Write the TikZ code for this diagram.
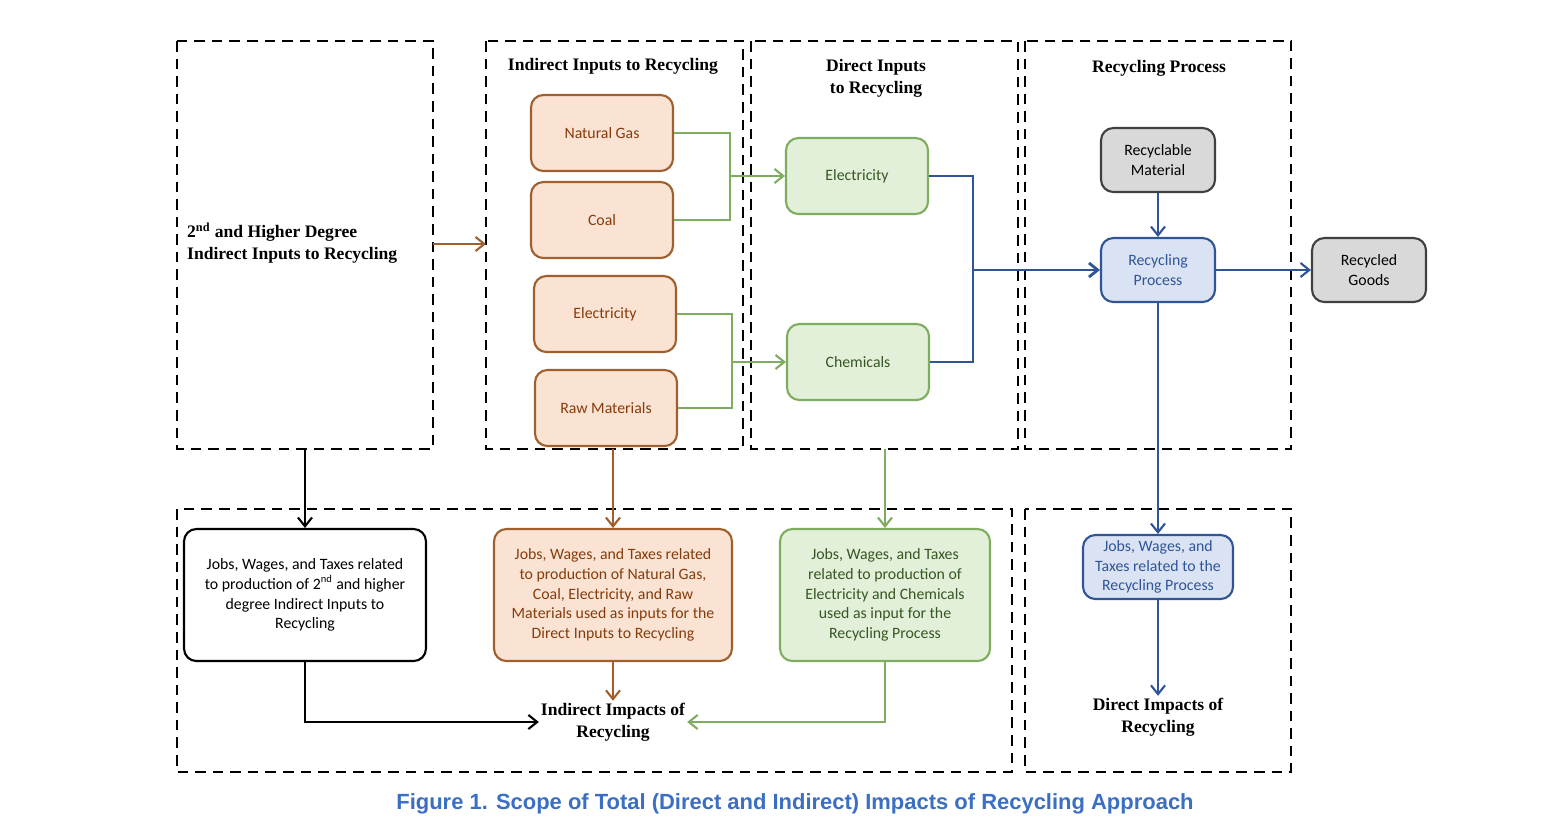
\documentclass[tikz,border=0pt]{standalone}
\usepackage{fontspec}
\setmainfont{Carlito}
\newfontfamily\hdfont{Liberation Serif}
\newfontfamily\capfont{Liberation Sans}
\usetikzlibrary{arrows.meta}
\definecolor{orfill}{HTML}{FBE3D3}
\definecolor{ordraw}{HTML}{A0602E}
\definecolor{ortext}{HTML}{843C0C}
\definecolor{grfill}{HTML}{E2F0D9}
\definecolor{grdraw}{HTML}{7FAD5F}
\definecolor{grtext}{HTML}{375623}
\definecolor{blfill}{HTML}{DAE3F3}
\definecolor{bldraw}{HTML}{2F5597}
\definecolor{gyfill}{HTML}{D9D9D9}
\definecolor{captxt}{HTML}{3A6FC4}
\tikzset{
  scope box/.style={draw, dashed, line width=1.2pt, dash pattern=on 6pt off 4pt},
  box/.style={draw, rounded corners=7pt, line width=1.2pt, align=center, font=\fontsize{9}{11.3}\selectfont, inner sep=2pt},
  orbox/.style={box, fill=orfill, draw=ordraw, text=ortext},
  grbox/.style={box, fill=grfill, draw=grdraw, text=grtext},
  blbox/.style={box, fill=blfill, draw=bldraw, text=bldraw},
  gybox/.style={box, fill=gyfill, draw=black!75, text=black},
  head/.style={font=\hdfont\bfseries\fontsize{10}{12.5}\selectfont, align=center},
  arr/.style={-{Straight Barb[length=5pt,width=8pt]}, line width=1.2pt},
}
\begin{document}
\begin{tikzpicture}[x=0.02cm, y=-0.02cm]
    \useasboundingbox (0,0) rectangle (1555,836);
    % dashed scopes
    \draw[scope box] (177,41) rectangle (433,449);
    \draw[scope box] (486,41) rectangle (743,449);
    \draw[scope box] (751,41) rectangle (1018,449);
    \draw[scope box] (1025,41) rectangle (1291,449);
    \draw[scope box] (177,509) rectangle (1012,772);
    \draw[scope box] (1025,509) rectangle (1291,772);
    \coordinate (higherE) at (433,244);
    \coordinate (higherS) at (305,449);
    \coordinate (indW) at (486,244);
    \coordinate (indS) at (613,449);
    \coordinate (dirS) at (885,449);

    % headers
    \node[head] at (613,66) {Indirect Inputs to Recycling};
    \node[head] at (876,78) {Direct Inputs\\to Recycling};
    \node[head] at (1159,68) {Recycling Process};
    \node[head, align=left, anchor=west] at (181,243) {2\textsuperscript{nd} and Higher Degree\\Indirect Inputs to Recycling};

    % indirect inputs
    \node[orbox, minimum width=2.84cm, minimum height=1.52cm] (gas) at (602,133) {Natural Gas};
    \node[orbox, minimum width=2.84cm, minimum height=1.52cm] (coal) at (602,220) {Coal};
    \node[orbox, minimum width=2.84cm, minimum height=1.52cm] (elecI) at (605,314) {Electricity};
    \node[orbox, minimum width=2.84cm, minimum height=1.52cm] (raw) at (606,408) {Raw Materials};

    % direct inputs
    \node[grbox, minimum width=2.84cm, minimum height=1.52cm] (elecD) at (857,176) {Electricity};
    \node[grbox, minimum width=2.84cm, minimum height=1.52cm] (chem) at (858,362) {Chemicals};

    % recycling process
    \node[gybox, minimum width=2.28cm, minimum height=1.28cm] (mat) at (1158,160) {Recyclable\\Material};
    \node[blbox, minimum width=2.28cm, minimum height=1.28cm] (proc) at (1158,270) {Recycling\\Process};
    \node[gybox, minimum width=2.28cm, minimum height=1.28cm] (goods) at (1369,270) {Recycled\\Goods};

    % impacts
    \node[box, minimum width=4.84cm, minimum height=2.64cm] (jobsH) at (305,595) {Jobs, Wages, and Taxes related\\to production of 2\textsuperscript{nd} and higher\\degree Indirect Inputs to\\Recycling};
    \node[orbox, minimum width=4.76cm, minimum height=2.64cm] (jobsI) at (613,595) {Jobs, Wages, and Taxes related\\to production of Natural Gas,\\Coal, Electricity, and Raw\\Materials used as inputs for the\\Direct Inputs to Recycling};
    \node[grbox, minimum width=4.2cm, minimum height=2.64cm] (jobsD) at (885,595) {Jobs, Wages, and Taxes\\related to production of\\Electricity and Chemicals\\used as input for the\\Recycling Process};
    \node[blbox, minimum width=3cm, minimum height=1.28cm] (jobsR) at (1158,567) {Jobs, Wages, and\\Taxes related to the\\Recycling Process};
    \node[head, inner sep=1pt] (indImp) at (613,722) {Indirect Impacts of\\Recycling};
    \node[head, inner sep=1pt] (dirImp) at (1158,717) {Direct Impacts of\\Recycling};

    \node[font=\capfont\bfseries\fontsize{12.5}{15}\selectfont, text=captxt] (cap) at (795,804) {Figure 1. Scope of Total (Direct and Indirect) Impacts of Recycling Approach};

    % connectors
    \draw[grdraw, line width=1.2pt] (gas.east) -| (730,220) -- (coal.east);
    \draw[arr, grdraw] (730,176) -- (elecD.west);
    \draw[grdraw, line width=1.2pt] (elecI.east) -| (732,408) -- (raw.east);
    \draw[arr, grdraw] (732,362) -- (chem.west);
    \draw[bldraw, line width=1.2pt] (elecD.east) -| (973,362) -- (chem.east);
    \draw[arr, bldraw, line width=1.6pt] (973,270) -- (proc.west);
    \draw[arr, bldraw] (mat) -- (proc);
    \draw[arr, bldraw] (proc) -- (goods);
    \draw[arr, bldraw] (proc) -- (jobsR);
    \draw[arr, bldraw] (jobsR) -- (dirImp);
    \draw[arr, ordraw] (higherE) -- (indW);
    \draw[arr, black] (higherS) -- (jobsH);
    \draw[arr, ordraw] (indS) -- (jobsI);
    \draw[arr, grdraw] (dirS) -- (jobsD);
    \draw[arr, black] (jobsH.south) |- (indImp.west);
    \draw[arr, ordraw] (jobsI) -- (indImp);
    \draw[arr, grdraw] (jobsD.south) |- (indImp.east);
\end{tikzpicture}
\end{document}
